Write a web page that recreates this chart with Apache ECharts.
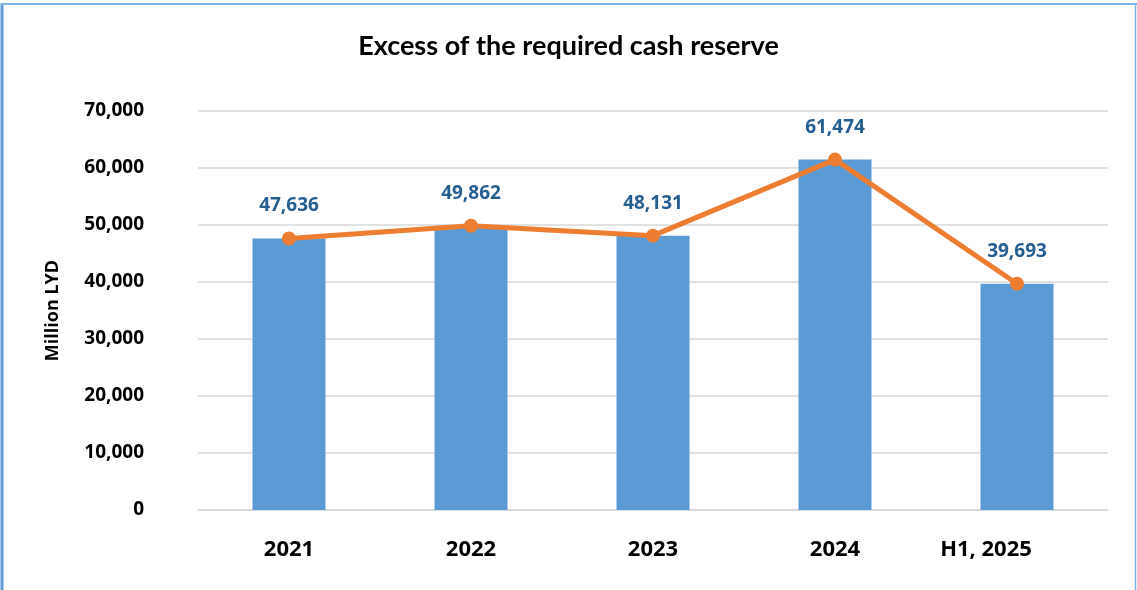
<!DOCTYPE html>
<html>
<head>
<meta charset="utf-8">
<title>Excess of the required cash reserve</title>
<script src="https://cdn.jsdelivr.net/npm/echarts@6/dist/echarts.min.js"></script>
<style>
  html, body { margin: 0; padding: 0; background: #ffffff; }
  #chart { width: 1137px; height: 590px; }
</style>
</head>
<body>
<div id="chart"></div>
<script>
// Periods on the category axis
const categories = ['2021', '2022', '2023', '2024', 'H1, 2025'];
// Excess of the required cash reserve, million LYD
const excessReserve = [47636, 49862, 48131, 61474, 39693];
// Value axis range and step
const yMin = 0;
const yMax = 70000;
const yStep = 10000;

const fmt = v => Number(v).toLocaleString('en-US');

const chart = echarts.init(document.getElementById('chart'), null, { renderer: 'canvas' });

chart.setOption({
  backgroundColor: '#ffffff',
  animation: false,
  title: {
    text: 'Excess of the required cash reserve',
    left: 'center',
    top: 28,
    textStyle: {
      fontFamily: 'Lato',
      fontWeight: 'bold',
      fontSize: 27,
      color: '#000000'
    }
  },
  graphic: [
    // frame around the chart area
    { type: 'line', shape: { x1: 2, y1: 3, x2: 2, y2: 590 }, style: { stroke: '#5B9BD5', lineWidth: 3 }, silent: true },
    { type: 'line', shape: { x1: 1, y1: 4, x2: 1137, y2: 4 }, style: { stroke: '#7FB2E5', lineWidth: 2 }, silent: true },
    { type: 'line', shape: { x1: 1135.5, y1: 3, x2: 1135.5, y2: 590 }, style: { stroke: '#7FB2E5', lineWidth: 1.5 }, silent: true }
  ],
  grid: {
    left: 198,
    right: 29,
    top: 111,
    bottom: 80,
    containLabel: false
  },
  xAxis: {
    type: 'category',
    data: categories.map((c, i) => i === categories.length - 1
      ? { value: c, textStyle: { padding: [0, 62, 0, 0] } }
      : c),
    axisLine: { show: true, lineStyle: { color: '#D9D9D9', width: 1.5 } },
    axisTick: { show: false },
    axisLabel: {
      margin: 29,
      fontFamily: 'Open Sans',
      fontWeight: 'bold',
      fontSize: 22,
      color: '#000000'
    }
  },
  yAxis: {
    type: 'value',
    min: yMin,
    max: yMax,
    interval: yStep,
    name: 'Million LYD',
    nameLocation: 'middle',
    nameGap: 136,
    nameRotate: 90,
    nameTextStyle: {
      fontFamily: 'Open Sans',
      fontWeight: 'bold',
      fontSize: 18,
      color: '#000000'
    },
    axisLine: { show: false },
    axisTick: { show: false },
    splitLine: { lineStyle: { color: '#D9D9D9', width: 1.5 } },
    axisLabel: {
      margin: 54,
      fontFamily: 'Open Sans',
      fontWeight: 'bold',
      fontSize: 19,
      color: '#000000',
      formatter: v => fmt(v)
    }
  },
  series: [
    {
      name: 'Excess reserve (bars)',
      type: 'bar',
      data: excessReserve,
      barWidth: 73,
      itemStyle: { color: '#5B9BD5' },
      z: 2
    },
    {
      name: 'Excess reserve (line)',
      type: 'line',
      data: excessReserve,
      symbol: 'circle',
      symbolSize: 14,
      lineStyle: { color: '#ED7D31', width: 5 },
      itemStyle: { color: '#ED7D31' },
      z: 3,
      label: {
        show: true,
        position: 'top',
        distance: 16,
        fontFamily: 'Open Sans',
        fontWeight: 'bold',
        fontSize: 19,
        color: '#255E91',
        formatter: p => fmt(p.value)
      }
    }
  ]
});
</script>
</body>
</html>
